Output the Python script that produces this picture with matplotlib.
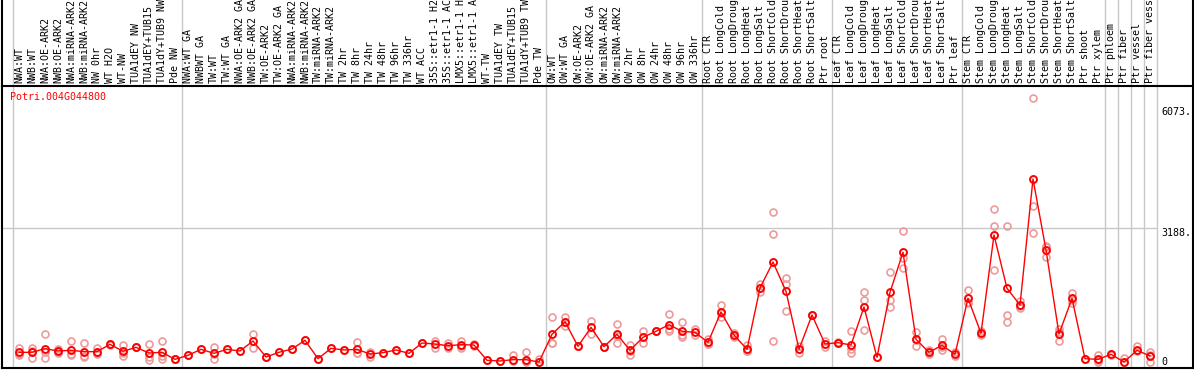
import matplotlib.pyplot as plt
import numpy as np

gene = 'Potri.004G044800'

samples = [
    'NWA:WT', 'NWB:WT', 'NWA:OE-ARK2', 'NWB:OE-ARK2', 'NWA:miRNA-ARK2', 'NWB:miRNA-ARK2',
    'NW 0hr', 'WT H2O', 'WT-NW', 'TUA1dEY NW', 'TUA1dEY+TUB15', 'TUA1dY+TUB9 NW', 'Pde NW',
    'NWA:WT GA', 'NWBWT GA', 'TW:WT', 'TW:WT GA', 'NWA:OE-ARK2 GA', 'NWB:OE-ARK2 GA',
    'TW:OE-ARK2', 'TW:OE-ARK2 GA', 'NWA:miRNA-ARK2', 'NWB:miRNA-ARK2', 'TW:miRNA-ARK2',
    'TW:miRNA-ARK2', 'TW 2hr', 'TW 8hr', 'TW 24hr', 'TW 48hr', 'TW 96hr', 'TW 336hr',
    'WT ACC', '35S::etr1-1 H2', '35S::etr1-1 AC', 'LMX5::etr1-1 H', 'LMX5::etr1-1 A',
    'WT-TW', 'TUA1dEY TW', 'TUA1dEY+TUB15', 'TUA1dY+TUB9 TW', 'Pde TW',
    'OW:WT', 'OW:WT GA', 'OW:OE-ARK2', 'OW:OE-ARK2 GA', 'OW:miRNA-ARK2', 'OW:miRNA-ARK2',
    'OW 2hr', 'OW 8hr', 'OW 24hr', 'OW 48hr', 'OW 96hr', 'OW 336hr',
    'Root CTR', 'Root LongCold', 'Root LongDroug', 'Root LongHeat', 'Root LongSalt',
    'Root ShortCold', 'Root ShortDrou', 'Root ShortHeat', 'Root ShortSalt', 'Ptr root',
    'Leaf CTR', 'Leaf LongCold', 'Leaf LongDroug', 'Leaf LongHeat', 'Leaf LongSalt',
    'Leaf ShortCold', 'Leaf ShortDrou', 'Leaf ShortHeat', 'Leaf ShortSalt', 'Ptr leaf',
    'Stem CTR', 'Stem LongCold', 'Stem LongDroug', 'Stem LongHeat', 'Stem LongSalt',
    'Stem ShortCold', 'Stem ShortDrou', 'Stem ShortHeat', 'Stem ShortSalt',
    'Ptr shoot', 'Ptr xylem', 'Ptr phloem', 'Ptr fiber', 'Ptr vessel', 'Ptr fiber vess',
]

means = [
    231, 231, 317, 262, 278, 246, 246, 421, 254, 349, 214, 231, 63,
    159, 301, 206, 301, 262, 500, 119, 231, 309, 516, 79, 325, 286, 301, 190,
    222, 286, 206, 452, 428, 388, 412, 404, 40, 24, 55, 55, 0,
    659, 959, 373, 825, 365, 659, 278, 587, 730, 888, 730, 706,
    468, 1190, 642, 301, 1761, 2379, 1681, 301, 1118, 428,
    460, 404, 1309, 111, 1658, 2610, 540, 230, 397, 183,
    1515, 683, 3021, 1753, 1356, 4354, 2665, 666, 1515, 79, 63,
    183, 0, 278, 143,
]

replicates = [
    [341, 182, 170], [341, 103, 250], [658, 246, 87], [317, 206, 262], [492, 159, 190],
    [460, 127, 150], [341, 182, 215], [440, 400], [404, 143, 215], [349, 349],
    [428, 48, 127], [500, 140, 63], [63, 63],
    [159], [301], [365, 63, 190], [301], [262], [674, 325], [119, 119], [231], [309],
    [516], [79], [325], [286], [476, 215, 210], [127, 230], [222], [286], [206],
    [452], [507, 341], [444, 341], [507, 341, 390], [420, 390], [40], [24],
    [159, 30], [238, 0, 30], [79, 0],
    [1071, 444, 460], [1071, 857, 950], [373, 380], [983, 666], [365, 365],
    [904, 444, 630], [412, 174, 250], [738, 444], [730, 730], [1134, 746, 785],
    [952, 603, 635], [777, 640],
    [539, 430, 435], [1348, 1063, 1160], [587, 700], [397, 250, 256],
    [1856, 1658, 1770], [3561, 3038, 492], [1999, 1856, 1213], [222, 380, 300],
    [1118, 1130], [492, 365],
    [460, 470], [730, 301, 206], [1658, 1467, 761], [111], [2134, 1475, 1316],
    [3117, 2466, 2229], [706, 389, 525], [286, 200], [547, 278, 366], [238, 150],
    [1713, 1412, 1420], [746, 650], [3640, 3236, 2181], [3236, 1118, 944],
    [1451, 1277, 1340], [6274, 3712, 3061], [2768, 2498, 2730], [777, 500, 720],
    [1650, 1412, 1480], [79], [166, 40, 0],
    [183, 170], [87, 0], [380, 250], [246, 8, 170],
]

# group separators (between sample columns)
separators = [-0.5, 12.5, 40.5, 52.5, 62.5, 72.5, 83.5, 84.5, 85.5, 86.5, 87.5]
y_ticks = [0, 3188, 6073]
y_tick_labels = ['0', '3188.', '6073.']

W, H = 1194, 370
MONO = 'DejaVu Sans Mono'
FS = 7.2
GREY = '#c8c8c8'


def px_box(x0, y0, x1, y1):
    return [x0 / W, 1 - y1 / H, (x1 - x0) / W, (y1 - y0) / H]


fig = plt.figure(figsize=(W / 100, H / 100), dpi=100)

# x scale: column 0 centred at 19 px, 13 px per column
x_left = (2 - 19) / 13
x_right = (1193 - 19) / 13
head_y = 85.5

# main plot
ax = fig.add_axes(px_box(2, head_y, 1193, 368))
scale = 0.04203
ax.set_xlim(x_left, x_right)
ax.set_ylim(-(368 - 362) / scale, (362 - head_y) / scale)
ax.set_xticks([])
ax.set_yticks([])
ax.spines['top'].set_visible(False)
for s in ['left', 'bottom', 'right']:
    ax.spines[s].set_color('black')
    ax.spines[s].set_linewidth(1.5)

for sx in separators:
    ax.axvline(sx, color=GREY, lw=1, zorder=0)
ax.hlines(3188, x_left, separators[-1], color=GREY, lw=1, zorder=0)

x = np.arange(len(samples))
for i, reps in enumerate(replicates):
    ax.plot([i] * len(reps), reps, 'o', ms=5, mfc='none', mec='#ec9a9a',
            mew=1.2, zorder=2, clip_on=False)
ax.plot(x, means, '-', color='red', lw=1, zorder=3)
ax.plot(x, means, 'o', ms=5, mfc='none', mec='red', mew=1.4, zorder=4)

tick_x = (1161 - 19) / 13
for v, lab in zip(y_ticks, y_tick_labels):
    ax.text(tick_x, v, lab, fontsize=FS, family=MONO,
            va='center' if v == 0 else 'top', ha='left')

ax.text(8 / 1191, 1 - 11.5 / 282.5, gene, transform=ax.transAxes, color='red',
        fontsize=FS, family=MONO, va='center', ha='left')

# header with sample names
axh = fig.add_axes(px_box(2, 0, 1193, head_y))
axh.set_xlim(x_left, x_right)
axh.set_ylim(0, 1)
axh.set_xticks([])
axh.set_yticks([])
axh.spines['top'].set_visible(False)
for s in ['left', 'bottom', 'right']:
    axh.spines[s].set_color('black')
    axh.spines[s].set_linewidth(1.5)
for sx in separators:
    axh.axvline(sx, color=GREY, lw=1, zorder=0)
for i, lab in enumerate(samples):
    axh.text(i, 0.03, lab, rotation=90, ha='center', va='bottom',
             fontsize=FS, family=MONO, clip_on=True)

fig.savefig('out.png', dpi=100)
